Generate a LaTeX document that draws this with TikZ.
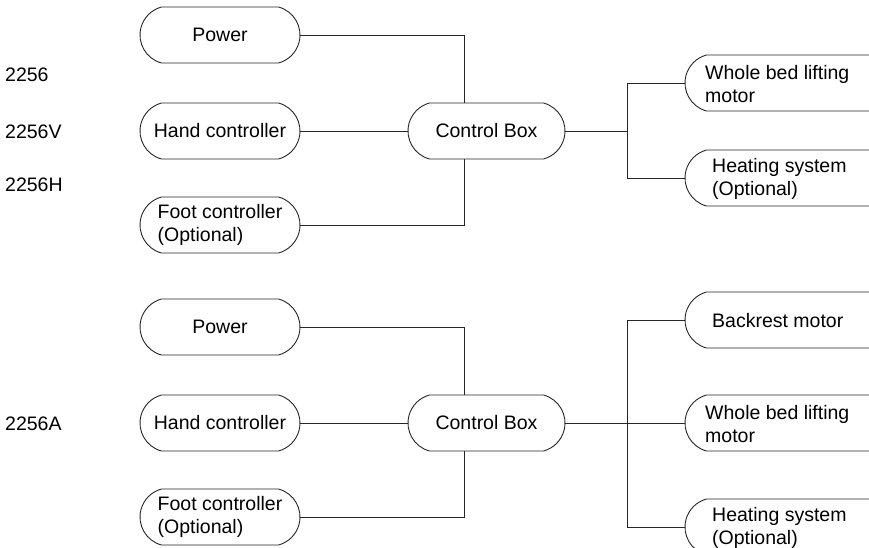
\documentclass[tikz,border=0pt]{standalone}
\usepackage{fontspec}
\setmainfont{Liberation Sans}
\usetikzlibrary{shapes.misc}
\begin{document}
\begin{tikzpicture}[x=1pt,y=-1pt,
  box/.style={draw=black!85,line width=0.9pt,rounded rectangle,rounded rectangle arc length=150,minimum width=160pt,minimum height=56pt,inner sep=0pt,align=left,font=\fontsize{19.5}{23}\selectfont},
  rbox/.style={draw=black!85,line width=0.9pt,rounded rectangle,rounded rectangle arc length=150,minimum width=210pt,minimum height=56pt,inner sep=0pt},
  txt/.style={inner sep=0pt,align=left,anchor=west,font=\fontsize{19.5}{23}\selectfont},
  wire/.style={draw=black!85,line width=0.9pt}]
\useasboundingbox (0,0) rectangle (869,547);
\clip (0,0) rectangle (869,547);
\fill[white] (0,0) rectangle (869,547);
% labels
\node[txt] (l1) at (5,75) {2256};
\node[txt] (l2) at (5,132) {2256V};
\node[txt] (l3) at (5,185) {2256H};
\node[txt] (l4) at (5,424) {2256A};
% top group
\node[box] (p1) at (220,35) {Power};
\node[box] (hc1) at (220,131) {Hand controller};
\node[box] (fc1) at (220,225) {Foot controller\\(Optional)};
\node[box,minimum width=157pt] (cb1) at (486.5,131) {Control Box};
\node[rbox] (m1) at (790,83) {};
\node[txt] (m1t) at (705,84) {Whole bed lifting\\motor};
\node[rbox] (h1) at (790,178) {};
\node[txt] (h1t) at (712,179) {Heating system\\(Optional)};
\coordinate (j1) at (464,0);
\coordinate (r1) at (627,131);
\draw[wire] (p1.east) -| (cb1.north -| j1);
\draw[wire] (fc1.east) -| (cb1.south -| j1);
\draw[wire] (hc1.east) -- (cb1.west);
\draw[wire] (cb1.east) -- (r1);
\draw[wire] (r1) |- (m1.west);
\draw[wire] (r1) |- (h1.west);
% bottom group
\node[box] (p2) at (220,327) {Power};
\node[box] (hc2) at (220,423) {Hand controller};
\node[box] (fc2) at (220,517) {Foot controller\\(Optional)};
\node[box,minimum width=157pt] (cb2) at (486.5,423) {Control Box};
\node[rbox] (b2) at (790,320) {};
\node[txt] (b2t) at (712,321) {Backrest motor};
\node[rbox] (m2) at (790,423) {};
\node[txt] (m2t) at (705,424) {Whole bed lifting\\motor};
\node[rbox] (h2) at (790,527) {};
\node[txt] (h2t) at (712,528) {Heating system\\(Optional)};
\coordinate (r2) at (627,423);
\draw[wire] (p2.east) -| (cb2.north -| j1);
\draw[wire] (fc2.east) -| (cb2.south -| j1);
\draw[wire] (hc2.east) -- (cb2.west);
\draw[wire] (cb2.east) -- (m2.west);
\draw[wire] (r2) |- (b2.west);
\draw[wire] (r2) |- (h2.west);
\end{tikzpicture}
\end{document}
